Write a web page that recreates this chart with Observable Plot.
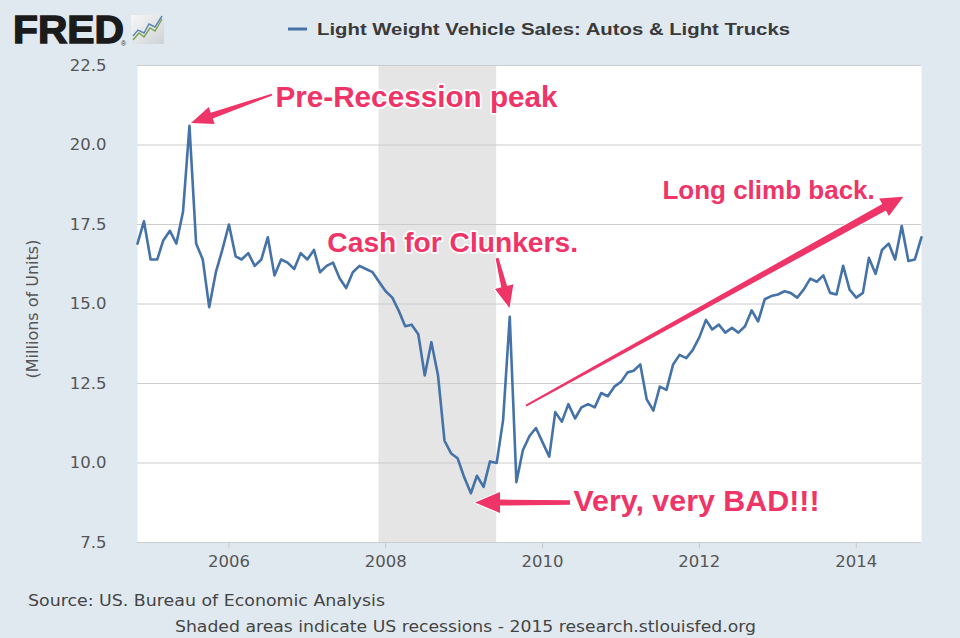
<!DOCTYPE html>
<html>
<head>
<meta charset="utf-8">
<script src="https://cdn.jsdelivr.net/npm/d3@7"></script>
<script src="https://cdn.jsdelivr.net/npm/@observablehq/plot@0.6"></script>
<style>
  body { margin: 0; background: #e1e9f0; }
  #wrap { position: relative; width: 960px; height: 638px; background: #e1e9f0; overflow: hidden; }
  #wrap > svg { position: absolute; left: 0; top: 0; }
</style>
</head>
<body>
<div id="wrap"></div>
<script>
// ---------- data ----------
const seriesName = "Light Weight Vehicle Sales: Autos & Light Trucks";
const firstMonth = [2004, 11]; // year, month of first observation
// Millions of units (SAAR), monthly Nov 2004 – Nov 2014
const sales = [
  16.9, 17.6,
  16.4, 16.4, 17.0, 17.3, 16.9, 17.9, 20.6, 16.9, 16.4, 14.9, 16.0, 16.7,
  17.5, 16.5, 16.4, 16.6, 16.2, 16.4, 17.1, 15.9, 16.4, 16.3, 16.1, 16.6,
  16.4, 16.7, 16.0, 16.2, 16.3, 15.8, 15.5, 16.0, 16.2, 16.1, 16.0, 15.7,
  15.4, 15.2, 14.8, 14.3, 14.35, 14.05, 12.75, 13.8, 12.75, 10.7, 10.3, 10.15,
  9.55, 9.05, 9.6, 9.25, 10.05, 10.0, 11.35, 14.6, 9.4, 10.4, 10.85, 11.1,
  10.65, 10.2, 11.6, 11.3, 11.85, 11.4, 11.75, 11.85, 11.75, 12.2, 12.1, 12.4,
  12.55, 12.85, 12.9, 13.1, 12.0, 11.65, 12.4, 12.3, 13.1, 13.4, 13.3, 13.55,
  13.95, 14.5, 14.2, 14.35, 14.1, 14.25, 14.1, 14.3, 14.8, 14.45, 15.15, 15.25,
  15.3, 15.4, 15.35, 15.2, 15.45, 15.8, 15.7, 15.9, 15.35, 15.3, 16.2, 15.45,
  15.2, 15.35, 16.45, 15.95, 16.7, 16.9, 16.4, 17.45, 16.35, 16.4, 17.1
];
const yTicks = [7.5, 10, 12.5, 15, 17.5, 20, 22.5];
const xTickYears = [2006, 2008, 2010, 2012, 2014];
const recessions = [{ start: "2007-12-01", end: "2009-06-01" }];
// annotation anchors in data space (decimal year, value)
const noteTexts = ["Pre-Recession peak", "Cash for Clunkers.", "Long climb back.", "Very, very BAD!!!"];
const noteX = [2006.593, 2007.256, 2011.529, 2010.394];
const noteY = [21.2, 16.62, 18.29, 8.506];
const arrowFromX = [2006.555, 2009.425, 2009.795, 2010.356];
const arrowFromY = [21.57, 16.43, 11.79, 8.74];
const arrowToX = [2005.522, 2009.584, 2014.607, 2009.144];
const arrowToY = [20.68, 14.86, 18.36, 8.74];
const sourceText = "Source: US. Bureau of Economic Analysis";
const noteText = "Shaded areas indicate US recessions - 2015 research.stlouisfed.org";
const yLabel = "(Millions of Units)";

// ---------- styles ----------
const PINK = "#ef3468";
const ANNOT_FONT = "'Liberation Sans', Arial, Helvetica, sans-serif";
const noteFontSizes = [29.7, 28.2, 26, 30.4];
const arrowTailWidth = [2, 3, 2, 4.5];
const arrowNeckWidth = [6, 6, 7.5, 6];
const arrowHeadLen = [22, 22, 22, 25];
const arrowHeadWidth = [18, 19, 20, 21];

// ---------- derived tables ----------
const start = new Date(Date.UTC(firstMonth[0], firstMonth[1] - 1, 1));
const data = sales.map((v, i) => ({ date: d3.utcMonth.offset(start, i), value: v }));
const yearToDate = (y) => {
  const yr = Math.floor(y), s = Date.UTC(yr, 0, 1), e = Date.UTC(yr + 1, 0, 1);
  return new Date(s + (y - yr) * (e - s));
};
const xTicks = xTickYears.map(y => new Date(Date.UTC(y, 0, 1)));
const notes = noteTexts.map((t, i) => ({ text: t, x: yearToDate(noteX[i]), y: noteY[i], size: noteFontSizes[i] }));
const arrows = arrowFromX.map((_, i) => ({
  x1: yearToDate(arrowFromX[i]), y1: arrowFromY[i],
  x2: yearToDate(arrowToX[i]), y2: arrowToY[i],
  w0: arrowTailWidth[i], w1: arrowNeckWidth[i], hl: arrowHeadLen[i], hw: arrowHeadWidth[i]
}));

// tapered filled arrows drawn through the plot's scales
function taperedArrows(index, scales) {
  const g = d3.create("svg:g").attr("aria-label", "annotation arrows");
  for (const a of arrows) {
    const { w0, w1, hl, hw } = a;
    const x1 = scales.x(a.x1), y1 = scales.y(a.y1), x2 = scales.x(a.x2), y2 = scales.y(a.y2);
    const dx = x2 - x1, dy = y2 - y1, L = Math.hypot(dx, dy);
    const ux = dx / L, uy = dy / L, nx = -uy, ny = ux;
    const bx = x2 - ux * hl, by = y2 - uy * hl;
    const pts = [
      [x1 + nx * w0 / 2, y1 + ny * w0 / 2],
      [bx + nx * w1 / 2, by + ny * w1 / 2],
      [bx + nx * hw / 2, by + ny * hw / 2],
      [x2, y2],
      [bx - nx * hw / 2, by - ny * hw / 2],
      [bx - nx * w1 / 2, by - ny * w1 / 2],
      [x1 - nx * w0 / 2, y1 - ny * w0 / 2]
    ];
    g.append("polygon")
      .attr("points", pts.map(p => p.join(",")).join(" "))
      .attr("fill", PINK)
      .attr("stroke", "white")
      .attr("stroke-width", 2)
      .attr("stroke-linejoin", "round")
      .attr("paint-order", "stroke");
  }
  return g.node();
}

const chart = Plot.plot({
  width: 960,
  height: 638,
  marginLeft: 137,
  marginRight: 39,
  marginTop: 65,
  marginBottom: 96,
  style: { background: "transparent", fontFamily: "'DejaVu Sans', Verdana, sans-serif", fontSize: "16.5px", color: "#555", overflow: "visible" },
  x: { type: "utc", domain: [data[0].date, data[data.length - 1].date], ticks: xTicks, tickFormat: d3.utcFormat("%Y"), tickSize: 0, tickPadding: 13, label: null },
  y: { domain: [7.5, 22.5], ticks: yTicks, tickFormat: d3.format(".1f"), tickSize: 0, tickPadding: 31, label: null },
  marks: [
    Plot.frame({ fill: "white", stroke: "none" }),
    Plot.rect(recessions, { x1: d => new Date(d.start), x2: d => new Date(d.end), y1: 7.5, y2: 22.5, fill: "#e5e5e5" }),
    Plot.ruleY(yTicks, { stroke: "#cccccc", strokeWidth: 1 }),
    Plot.ruleX(xTicks, { y1: 7.5, y2: 7.3, stroke: "#c8c8c8", strokeWidth: 1 }),
    Plot.line(data, { x: "date", y: "value", stroke: "#4572a7", strokeWidth: 2.6, strokeLinejoin: "round" }),
    taperedArrows,
    Plot.text(notes, {
      x: "x", y: "y", text: "text", textAnchor: "start", lineAnchor: "bottom",
      fill: PINK, stroke: "white", strokeWidth: 3.5, paintOrder: "stroke",
      fontSize: d => d.size, fontWeight: "bold", fontFamily: ANNOT_FONT
    })
  ]
});

const wrap = document.getElementById("wrap");
wrap.appendChild(chart);

// ---------- header / footer / y label (outside the plot) ----------
const ov = d3.select(wrap).append("svg").attr("width", 960).attr("height", 638).style("pointer-events", "none");
const defs = ov.append("defs");
const grad = defs.append("linearGradient").attr("id", "icong").attr("x1", 0).attr("y1", 0).attr("x2", 1).attr("y2", 1);
grad.append("stop").attr("offset", 0).attr("stop-color", "#f7f7f7");
grad.append("stop").attr("offset", 1).attr("stop-color", "#cfd3d6");

ov.append("text").text("FRED")
  .attr("x", 13).attr("y", 43)
  .attr("font-family", "'Liberation Sans', Arial, sans-serif").attr("font-weight", "bold").attr("font-size", 39)
  .attr("textLength", 111).attr("lengthAdjust", "spacingAndGlyphs")
  .attr("fill", "#1b1b1b").attr("stroke", "#1b1b1b").attr("stroke-width", 1.4);
ov.append("text").text("®").attr("x", 121).attr("y", 46)
  .attr("font-family", "'Liberation Sans', Arial, sans-serif").attr("font-size", 7).attr("fill", "#333");
ov.append("rect").attr("x", 131).attr("y", 15).attr("width", 33).attr("height", 29).attr("fill", "url(#icong)");
ov.append("polyline").attr("points", "133,40 139,33 144,37 150,28 155,31 162,19")
  .attr("fill", "none").attr("stroke", "#7aa24a").attr("stroke-width", 1.4);
ov.append("polyline").attr("points", "133,36 138,30 144,33 149,24 155,27 162,16")
  .attr("fill", "none").attr("stroke", "#5b86b8").attr("stroke-width", 1.4);

ov.append("line").attr("x1", 288).attr("x2", 307).attr("y1", 29).attr("y2", 29)
  .attr("stroke", "#4572a7").attr("stroke-width", 3);
ov.append("text").text(seriesName)
  .attr("x", 317).attr("y", 35)
  .attr("font-family", "'Liberation Sans', Arial, sans-serif").attr("font-weight", "bold").attr("font-size", 17)
  .attr("textLength", 473).attr("lengthAdjust", "spacingAndGlyphs")
  .attr("fill", "#3a3a3a");

ov.append("text").text(yLabel)
  .attr("transform", "translate(32,309) rotate(-90)")
  .attr("text-anchor", "middle").attr("dy", "0.35em")
  .attr("font-family", "'DejaVu Sans', Verdana, sans-serif").attr("font-size", 16)
  .attr("fill", "#555");

ov.append("text").text(sourceText)
  .attr("x", 28).attr("y", 605.5)
  .attr("font-family", "'DejaVu Sans', Verdana, sans-serif").attr("font-size", 16.5)
  .attr("textLength", 357).attr("lengthAdjust", "spacingAndGlyphs")
  .attr("fill", "#444");
ov.append("text").text(noteText)
  .attr("x", 175).attr("y", 632)
  .attr("font-family", "'DejaVu Sans', Verdana, sans-serif").attr("font-size", 16.5)
  .attr("textLength", 581).attr("lengthAdjust", "spacingAndGlyphs")
  .attr("fill", "#444");
</script>
</body>
</html>
